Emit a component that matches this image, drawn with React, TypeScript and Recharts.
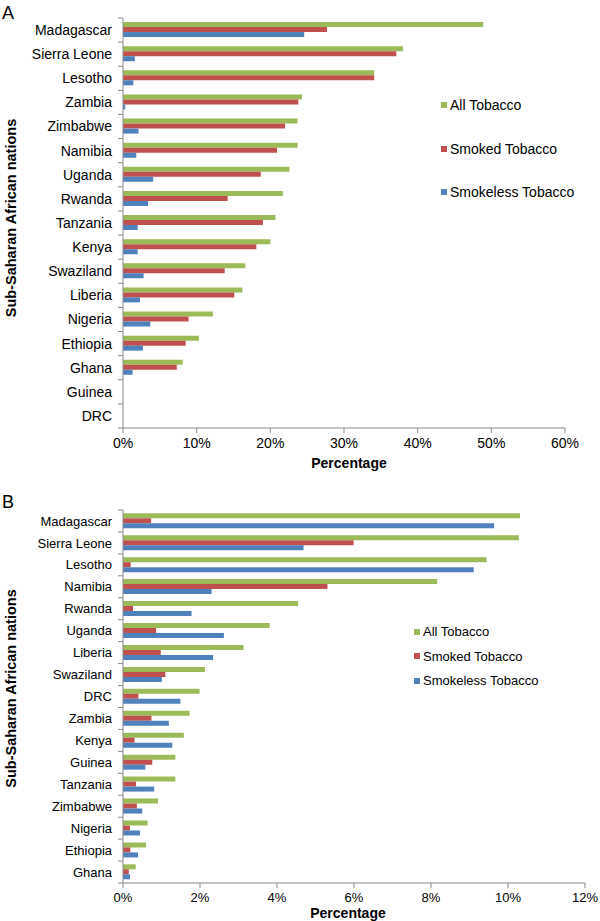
import React from 'react';
import { BarChart, Bar, XAxis, YAxis, Legend } from 'recharts';

// Panel A: prevalence among all respondents (%)
const countriesA = ['Madagascar', 'Sierra Leone', 'Lesotho', 'Zambia', 'Zimbabwe', 'Namibia', 'Uganda', 'Rwanda', 'Tanzania', 'Kenya', 'Swaziland', 'Liberia', 'Nigeria', 'Ethiopia', 'Ghana', 'Guinea', 'DRC'];
const allA = [48.9, 38.0, 34.1, 24.3, 23.7, 23.7, 22.6, 21.7, 20.7, 20.0, 16.6, 16.2, 12.2, 10.3, 8.1, 0, 0];
const smokedA = [27.7, 37.1, 34.1, 23.8, 22.0, 20.9, 18.7, 14.2, 19.0, 18.1, 13.8, 15.1, 8.9, 8.5, 7.3, 0, 0];
const smokelessA = [24.6, 1.6, 1.4, 0.3, 2.1, 1.8, 4.1, 3.4, 2.0, 2.0, 2.8, 2.3, 3.7, 2.7, 1.3, 0, 0];
const ticksA = [0, 10, 20, 30, 40, 50, 60];

// Panel B
const countriesB = ['Madagascar', 'Sierra Leone', 'Lesotho', 'Namibia', 'Rwanda', 'Uganda', 'Liberia', 'Swaziland', 'DRC', 'Zambia', 'Kenya', 'Guinea', 'Tanzania', 'Zimbabwe', 'Nigeria', 'Ethiopia', 'Ghana'];
const allB = [10.31, 10.28, 9.44, 8.16, 4.55, 3.81, 3.13, 2.13, 1.99, 1.73, 1.58, 1.36, 1.36, 0.91, 0.64, 0.6, 0.33];
const smokedB = [0.73, 5.99, 0.2, 5.31, 0.26, 0.86, 0.98, 1.1, 0.4, 0.74, 0.3, 0.76, 0.34, 0.36, 0.18, 0.19, 0.15];
const smokelessB = [9.64, 4.69, 9.11, 2.3, 1.78, 2.62, 2.34, 1.01, 1.49, 1.19, 1.28, 0.58, 0.81, 0.5, 0.44, 0.39, 0.18];
const ticksB = [0, 2, 4, 6, 8, 10, 12];

const GREEN = '#9bbb59';
const RED = '#c0504d';
const BLUE = '#4f81bd';
const AXIS = '#898989';
const FONT = '"Liberation Sans", Arial, Helvetica, sans-serif';

function buildRows(countries: string[], all: number[], smoked: number[], smokeless: number[]) {
  return countries.map((country, i) => ({
    country,
    all: all[i],
    smoked: smoked[i],
    smokeless: smokeless[i],
  }));
}

// category label plus Excel-style tick marks between the bands
function CountryTick(props: any) {
  const { x, y, payload, fontSize, half, last } = props;
  const axisX = x + 11;
  return (
    <g>
      <line x1={axisX - 5} x2={axisX} y1={y - half} y2={y - half} stroke={AXIS} />
      {payload.value === last && (
        <line x1={axisX - 5} x2={axisX} y1={y + half} y2={y + half} stroke={AXIS} />
      )}
      <text x={x} y={y} dy="0.355em" textAnchor="end" fontSize={fontSize} fill="#000">
        {payload.value}
      </text>
    </g>
  );
}

function YLabel(props: any) {
  const { viewBox, shift } = props;
  if (!viewBox) return null;
  const cx = viewBox.x + 11;
  const cy = viewBox.y + viewBox.height / 2 + shift;
  return (
    <text
      x={cx}
      y={cy}
      dy="0.355em"
      transform={`rotate(-90 ${cx} ${cy})`}
      textAnchor="middle"
      fontWeight="bold"
      fontSize={14.5}
      fill="#000"
    >
      Sub-Saharan African nations
    </text>
  );
}

function XLabel(props: any) {
  const { viewBox, shift, baseline } = props;
  if (!viewBox) return null;
  return (
    <text
      x={viewBox.x + viewBox.width / 2 + shift}
      y={viewBox.y + baseline}
      textAnchor="middle"
      fontWeight="bold"
      fontSize={14}
      fill="#000"
    >
      Percentage
    </text>
  );
}

function LegendList(props: any) {
  const { payload, rowHeight, fontSize } = props;
  return (
    <div>
      {(payload || []).map((entry: any) => (
        <div
          key={entry.value}
          style={{ height: rowHeight, lineHeight: `${rowHeight}px`, fontSize, whiteSpace: 'nowrap', color: '#000' }}
        >
          <span
            style={{
              display: 'inline-block',
              width: 6,
              height: 6,
              background: entry.color,
              marginRight: 3,
              verticalAlign: 'middle',
              position: 'relative',
              top: -1,
            }}
          />
          {entry.value}
        </div>
      ))}
    </div>
  );
}

interface PanelProps {
  rows: any[];
  height: number;
  margin: { top: number; right: number; bottom: number; left: number };
  xMax: number;
  xTicks: number[];
  xAxisHeight: number;
  plotHeight: number;
  fontSize: number;
  xLabelShift: number;
  xLabelBaseline: number;
  yLabelShift: number;
  categoryGap: string;
  legendLeft: number;
  legendTop: number;
  legendRow: number;
  legendFont: number;
}

function Panel(p: PanelProps) {
  const half = p.plotHeight / p.rows.length / 2;
  const last = p.rows[p.rows.length - 1].country;
  return (
    <BarChart
      width={600}
      height={p.height}
      data={p.rows}
      layout="vertical"
      margin={p.margin}
      barGap={0}
      barCategoryGap={p.categoryGap}
    >
      <XAxis
        type="number"
        domain={[0, p.xMax]}
        ticks={p.xTicks}
        interval={0}
        tickFormatter={(v) => `${v}%`}
        tick={{ fontSize: p.fontSize, fill: '#000' }}
        tickSize={5}
        tickMargin={5}
        axisLine={{ stroke: AXIS }}
        tickLine={{ stroke: AXIS }}
        height={p.xAxisHeight}
        label={<XLabel shift={p.xLabelShift} baseline={p.xLabelBaseline} />}
      />
      <YAxis
        type="category"
        dataKey="country"
        width={123}
        interval={0}
        tickSize={5}
        tickMargin={6}
        axisLine={{ stroke: AXIS }}
        tickLine={{ stroke: 'transparent' }}
        tick={<CountryTick fontSize={p.fontSize} half={half} last={last} />}
        label={<YLabel shift={p.yLabelShift} />}
      />
      <Legend
        layout="vertical"
        align="center"
        verticalAlign="middle"
        wrapperStyle={{ left: p.legendLeft, top: p.legendTop, width: 'auto', height: 'auto' }}
        content={(props: any) => (
          <LegendList payload={props.payload} rowHeight={p.legendRow} fontSize={p.legendFont} />
        )}
      />
      <Bar dataKey="all" name="All Tobacco" fill={GREEN} isAnimationActive={false} />
      <Bar dataKey="smoked" name="Smoked Tobacco" fill={RED} isAnimationActive={false} />
      <Bar dataKey="smokeless" name="Smokeless Tobacco" fill={BLUE} isAnimationActive={false} />
    </BarChart>
  );
}

export default function App() {
  const rowsA = buildRows(countriesA, allA, smokedA, smokelessA);
  const rowsB = buildRows(countriesB, allB, smokedB, smokelessB);
  return (
    <div
      style={{
        position: 'absolute',
        left: 0,
        top: 0,
        width: 600,
        height: 921,
        background: '#fff',
        fontFamily: FONT,
        overflow: 'hidden',
      }}
    >
      <div style={{ position: 'absolute', left: 0, top: 0 }}>
        <Panel
          rows={rowsA}
          height={480}
          margin={{ top: 18, right: 35, bottom: 0, left: 0 }}
          xMax={60}
          xTicks={ticksA}
          xAxisHeight={52}
          plotHeight={410}
          fontSize={14}
          xLabelShift={5}
          xLabelBaseline={40}
          yLabelShift={-5}
          categoryGap="17%"
          legendLeft={441}
          legendTop={84}
          legendRow={43.5}
          legendFont={14}
        />
      </div>
      <div style={{ position: 'absolute', left: 0, top: 480 }}>
        <Panel
          rows={rowsB}
          height={441}
          margin={{ top: 30, right: 15, bottom: 0, left: 0 }}
          xMax={12}
          xTicks={ticksB}
          xAxisHeight={38}
          plotHeight={373}
          fontSize={13}
          xLabelShift={-6}
          xLabelBaseline={35}
          yLabelShift={-8}
          categoryGap="15%"
          legendLeft={414}
          legendTop={140}
          legendRow={24.5}
          legendFont={13}
        />
      </div>
      <div style={{ position: 'absolute', left: 2, top: 4, fontSize: 18, lineHeight: 1 }}>A</div>
      <div style={{ position: 'absolute', left: 2, top: 493, fontSize: 18, lineHeight: 1 }}>B</div>
    </div>
  );
}
